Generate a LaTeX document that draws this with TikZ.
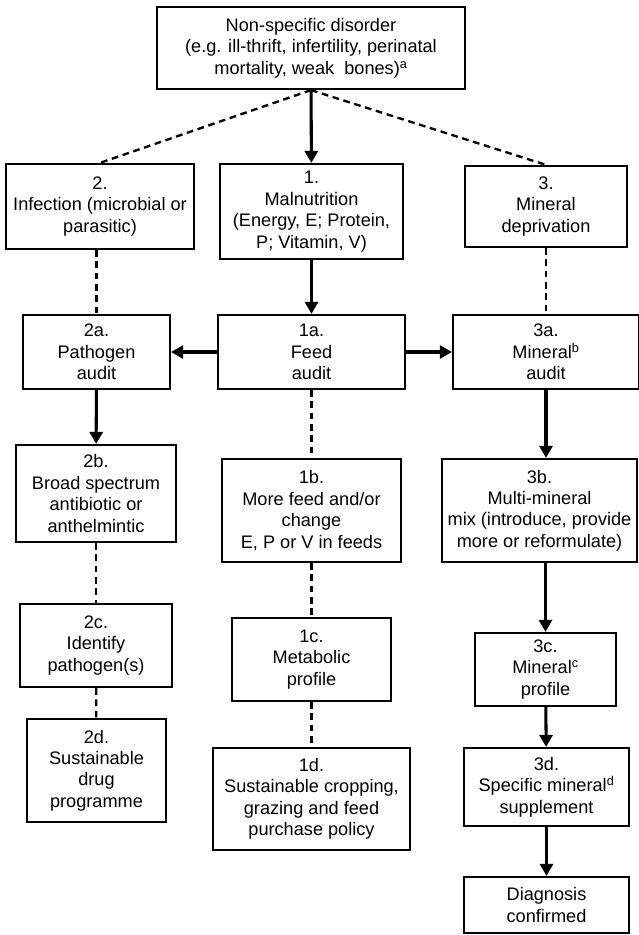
\documentclass[tikz,border=0pt]{standalone}
\usepackage{fontspec}
\setmainfont{Liberation Sans}
\usetikzlibrary{arrows.meta}

\begin{document}
\begin{tikzpicture}[x=0.03cm,y=-0.03cm,
  every node/.style={font=\fontsize{15.5}{18.3}\selectfont},
  box/.style={draw,line width=1.9pt,align=center,inner sep=0pt},
  strong/.style={-{Triangle[length=0.36cm,width=0.39cm]},line width=2.6pt},
  weak/.style={line width=2pt,dash pattern=on 0.2cm off 0.14cm}]
  \useasboundingbox (0,0) rectangle (638,935);

  % top and first row
  \node[box,minimum width=9.24cm,minimum height=2.46cm] (top) at (311,48)
    {Non-specific disorder\\(e.g. ill-thrift, infertility, perinatal\\mortality, weak\ \ bones)\textsuperscript{a}};
  \node[box,minimum width=5.64cm,minimum height=2.55cm] (inf) at (100,206.5)
    {2.\\Infection (microbial or\\parasitic)};
  \node[box,minimum width=5.49cm,minimum height=2.85cm] (mal) at (311.5,211.5)
    {1.\\Malnutrition\\(Energy, E; Protein,\\P; Vitamin, V)};
  \node[box,minimum width=4.86cm,minimum height=2.43cm] (dep) at (546,206.5)
    {3.\\Mineral\\deprivation};

  % audits
  \node[box,minimum width=4.41cm,minimum height=2.22cm] (pat) at (96.5,352)
    {2a.\\Pathogen\\audit};
  \node[box,minimum width=5.61cm,minimum height=2.22cm] (feed) at (311.5,352)
    {1a.\\Feed\\audit};
  \node[box,minimum width=5.58cm,minimum height=2.22cm] (minaud) at (546,352)
    {3a.\\Mineral\textsuperscript{b}\\audit};

  % b row
  \node[box,minimum width=4.8cm,minimum height=2.91cm] (drug) at (96,493.5)
    {2b.\\Broad spectrum\\antibiotic or\\anthelmintic};
  \node[box,minimum width=5.85cm,minimum height=3.09cm] (mix) at (539.5,510.5)
    {3b.\\Multi-mineral\\mix (introduce, provide\\more or reformulate)};
  \node[box,minimum width=5.37cm,minimum height=3.09cm] (more) at (311.5,510.5)
    {1b.\\More feed and/or\\change\\E, P or V in feeds};

  % c row
  \node[box,minimum width=4.56cm,minimum height=2.49cm] (ident) at (96,645.5)
    {2c.\\Identify\\pathogen(s)};
  \node[box,minimum width=4.77cm,minimum height=2.49cm] (meta) at (311.5,659.5)
    {1c.\\Metabolic\\profile};
  \node[box,minimum width=4.23cm,minimum height=2.19cm] (minprof) at (545.5,669.5)
    {3c.\\Mineral\textsuperscript{c}\\profile};

  % d row
  \node[box,minimum width=4.17cm,minimum height=3.09cm] (prog) at (96.5,770.5)
    {2d.\\Sustainable\\drug\\programme};
  \node[box,minimum width=5.91cm,minimum height=3.06cm] (crop) at (311.5,799)
    {1d.\\Sustainable cropping,\\grazing and feed\\purchase policy};
  \node[box,minimum width=4.95cm,minimum height=2.34cm] (supp) at (546.5,787)
    {3d.\\Specific mineral\textsuperscript{d}\\supplement};
  \node[box,minimum width=4.95cm,minimum height=1.68cm] (diag) at (546.5,905)
    {Diagnosis\\confirmed};

  % connectors
  \draw[strong] (top) -- (mal);
  \draw[weak] (top.south) -- (inf.north);
  \draw[weak] (top.south) -- (dep.north);
  \draw[strong] (mal) -- (feed);
  \draw[weak] (inf.south -| pat.north) -- (pat.north);
  \draw[weak] (dep.south -| minaud.north) -- (minaud.north);
  \draw[strong] (feed) -- (pat);
  \draw[strong] (feed) -- (minaud);
  \draw[strong] (pat) -- (drug);
  \draw[weak] (feed) -- (more);
  \draw[strong] (minaud.south) -- (minaud.south |- mix.north);
  \draw[weak] (drug) -- (ident);
  \draw[weak] (more) -- (meta);
  \draw[strong] (mix.south -| minprof.north) -- (minprof.north);
  \draw[weak] (ident) -- (prog);
  \draw[weak] (meta) -- (crop);
  \draw[strong] (minprof) -- (supp);
  \draw[strong] (supp) -- (diag);
\end{tikzpicture}
\end{document}
